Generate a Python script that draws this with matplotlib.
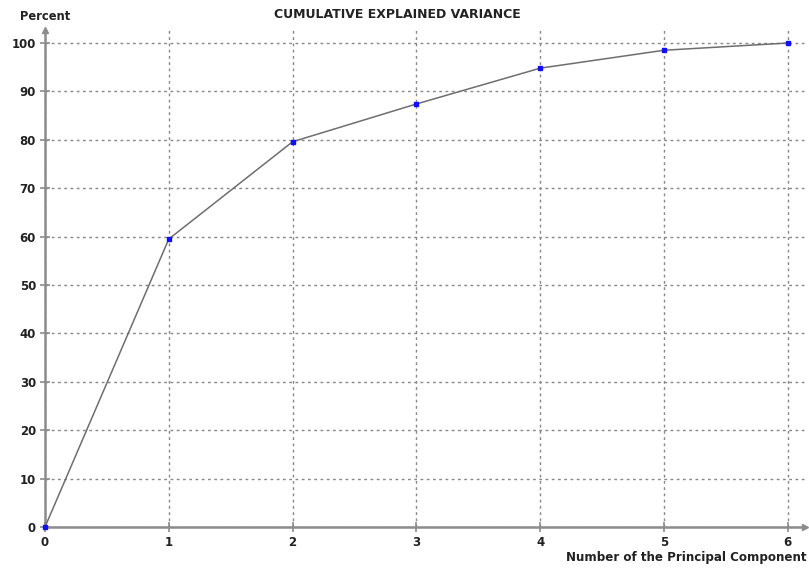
import matplotlib
matplotlib.use('Agg')
import matplotlib.pyplot as plt

# cumulative explained variance per number of principal components
components = [0, 1, 2, 3, 4, 5, 6]
cum_variance = [0, 59.5, 79.6, 87.4, 94.8, 98.5, 100]
y_ticks = [0, 10, 20, 30, 40, 50, 60, 70, 80, 90, 100]

plt.rcParams['font.family'] = ['DejaVu Sans']
plt.rcParams['font.weight'] = 'bold'

fig = plt.figure(figsize=(8.09, 5.69), dpi=100)
# axes: x=0 at 45px, x=6 at 788px ; y=0 at 527px, y=100 at 43px
ax = fig.add_axes([45 / 809, 1 - 527 / 569, (805 - 45) / 809, (527 - 30) / 569])
ax.set_xlim(0, 760 / 123.8)
ax.set_ylim(0, 497 / 4.84)

ax.set_xticks(components)
ax.set_yticks(y_ticks)
ax.grid(True, color='#888888', linestyle=(0, (2, 2.5)), linewidth=1)

for s in ['top', 'right']:
    ax.spines[s].set_visible(False)
for s in ['left', 'bottom']:
    ax.spines[s].set_color('#8c8c8c')
    ax.spines[s].set_linewidth(1.8)

ax.tick_params(direction='inout', length=7, width=1.2, color='#8c8c8c',
               labelsize=8.5, labelcolor='#222222', pad=3)

# arrow heads at the ends of the axes
ax.plot(0, 1, marker='^', color='#8c8c8c', markersize=5, transform=ax.transAxes, clip_on=False)
ax.plot(1, 0, marker='>', color='#8c8c8c', markersize=5, transform=ax.transAxes, clip_on=False)

ax.plot(components, cum_variance, color='#6e6e6e', linewidth=1.1, marker='s',
        markersize=3.5, markerfacecolor='#1010ff', markeredgecolor='#1010ff',
        clip_on=False, zorder=3)

fig.text(397 / 809, 1 - 14 / 569, 'CUMULATIVE EXPLAINED VARIANCE', ha='center', va='center',
         fontsize=9, color='#222222')
fig.text(20 / 809, 1 - 16 / 569, 'Percent', ha='left', va='center', fontsize=8.3, color='#222222')
fig.text(806 / 809, 1 - 558 / 569, 'Number of the Principal Component', ha='right', va='center',
         fontsize=8.6, color='#222222')

fig.savefig('out.png', dpi=100)
